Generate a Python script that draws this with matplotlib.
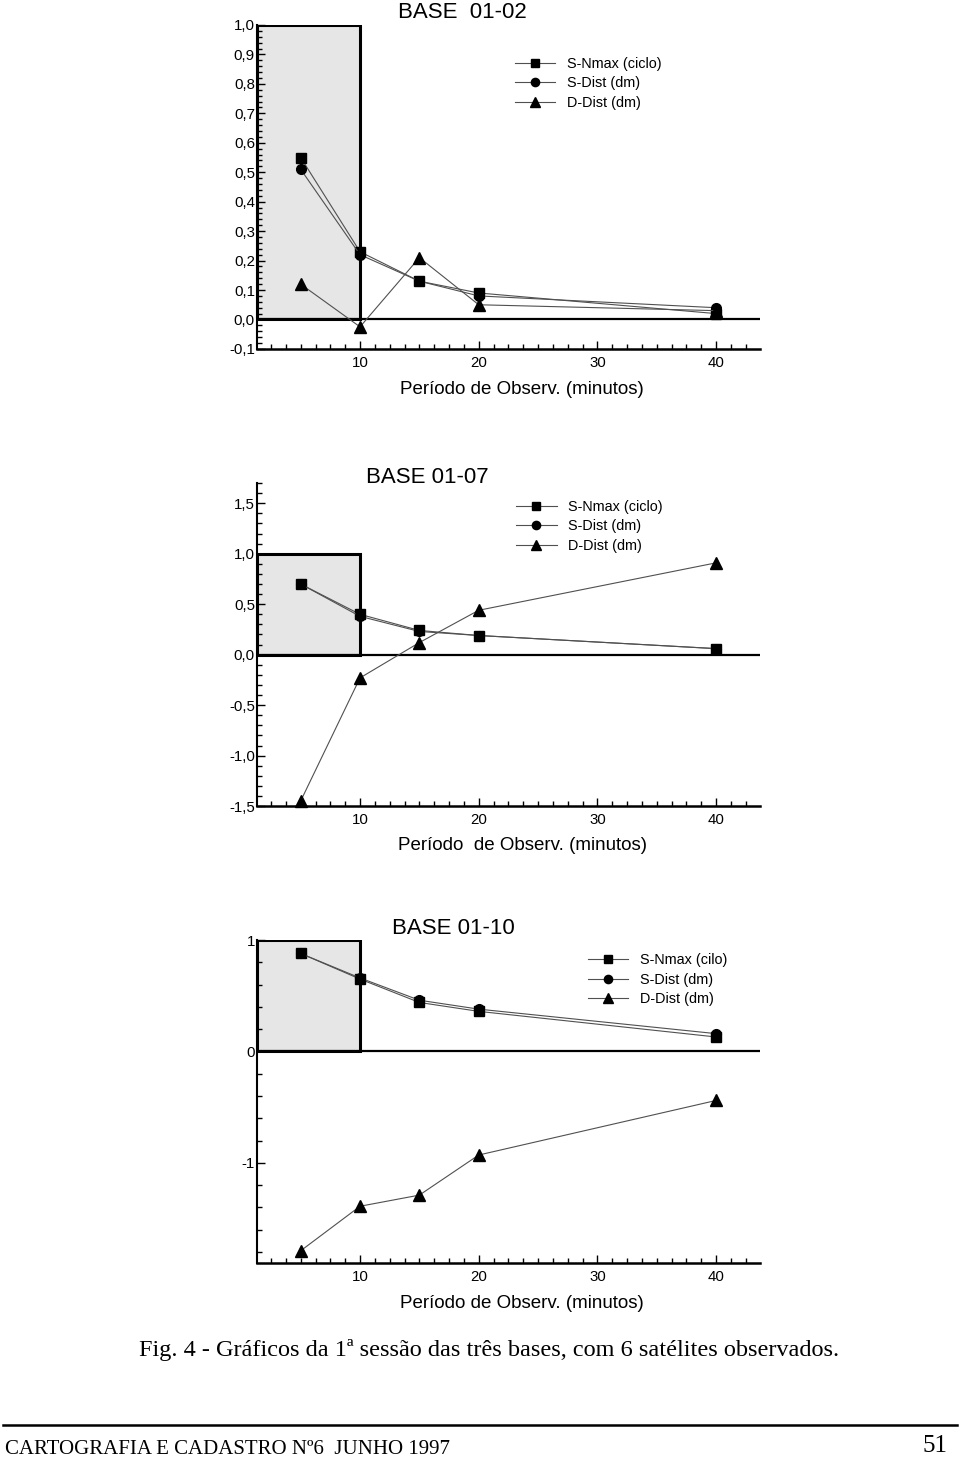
import matplotlib
matplotlib.use("Agg")
import matplotlib.pyplot as plt
from matplotlib.patches import Rectangle
from matplotlib.ticker import FixedLocator, MultipleLocator, FuncFormatter

plt.rcParams['font.family'] = ['Liberation Sans', 'DejaVu Sans']

# periodo de observacao (minutos)
periodo = [5, 10, 15, 20, 40]
series_names = ["S-Nmax (ciclo)", "S-Dist (dm)", "D-Dist (dm)"]
series_names_10 = ["S-Nmax (cilo)", "S-Dist (dm)", "D-Dist (dm)"]

# BASE 01-02
b02_snmax = [0.55, 0.23, 0.13, 0.09, 0.02]
b02_sdist = [0.51, 0.22, 0.13, 0.08, 0.04]
b02_ddist = [0.12, -0.025, 0.21, 0.05, 0.03]
b02_yticks = [-0.1, 0.0, 0.1, 0.2, 0.3, 0.4, 0.5, 0.6, 0.7, 0.8, 0.9, 1.0]

# BASE 01-07
b07_snmax = [0.70, 0.40, 0.24, 0.19, 0.06]
b07_sdist = [0.70, 0.38, 0.23, 0.19, 0.06]
b07_ddist = [-1.45, -0.23, 0.12, 0.44, 0.91]
b07_yticks = [-1.5, -1.0, -0.5, 0.0, 0.5, 1.0, 1.5]

# BASE 01-10
b10_snmax = [0.88, 0.65, 0.44, 0.36, 0.13]
b10_sdist = [0.88, 0.66, 0.46, 0.38, 0.16]
b10_ddist = [-1.79, -1.39, -1.29, -0.93, -0.44]
b10_yticks = [-1, 0, 1]

xticks = [10, 20, 30, 40]
markers = ['s', 'o', '^']
msizes = [7, 7, 8]


def comma(dec):
    def f(v, p):
        s = f"{v:.{dec}f}".replace('.', ',')
        if s in ("-0,0", "-0"):
            s = s[1:]
        return s
    return FuncFormatter(f)


def panel(rect, data, names, yticks, ylim, yminor, dec, box_top, leg_xy):
    ax = fig.add_axes(rect)
    xmin, xmax = 1.32, 43.7
    ax.set_xlim(xmin, xmax)
    ax.set_ylim(*ylim)
    ax.add_patch(Rectangle((xmin, 0), 10 - xmin, box_top, facecolor='#e6e6e6',
                           edgecolor='black', lw=2.2, zorder=1))
    ax.axhline(0, color='black', lw=1.6, zorder=2)
    for vals, m, ms, name in zip(data, markers, msizes, names):
        ax.plot(periodo, vals, color='#505050', lw=0.8, marker=m, ms=ms,
                mfc='black', mec='black', label=name, zorder=3, clip_on=False)
    for s in ('top', 'right'):
        ax.spines[s].set_visible(False)
    ax.spines['left'].set_linewidth(1.5)
    ax.spines['bottom'].set_linewidth(1.8)
    ax.xaxis.set_major_locator(FixedLocator(xticks))
    ax.xaxis.set_minor_locator(MultipleLocator(1.25))
    ax.yaxis.set_major_locator(FixedLocator(yticks))
    ax.yaxis.set_minor_locator(MultipleLocator(yminor))
    ax.yaxis.set_major_formatter(comma(dec))
    ax.tick_params(which='both', direction='in', width=1, labelsize=10.8)
    ax.tick_params(which='major', length=6)
    ax.tick_params(which='minor', length=3.5)
    ax.tick_params(axis='x', pad=5)
    ax.tick_params(axis='y', pad=1.5)
    ax.legend(loc='upper left', bbox_to_anchor=leg_xy, frameon=False,
              fontsize=10.4, handlelength=2.8, handletextpad=0.8,
              labelspacing=0.38, borderpad=0, borderaxespad=0,
              markerscale=0.85)
    return ax


fig = plt.figure(figsize=(9.6, 14.6), dpi=100)

panel([0.2677, 0.761, 0.524, 0.2219], [b02_snmax, b02_sdist, b02_ddist],
      series_names, b02_yticks, (-0.1, 1.0), 0.02, 1, 1.0, (0.513, 0.902))
panel([0.2677, 0.4479, 0.524, 0.2212], [b07_snmax, b07_sdist, b07_ddist],
      series_names, b07_yticks, (-1.5, 1.70), 0.1, 1, 1.0, (0.515, 0.949))
panel([0.2677, 0.1349, 0.524, 0.2212], [b10_snmax, b10_sdist, b10_ddist],
      series_names_10, b10_yticks, (-1.9, 1.0), 0.2, 0, 1.0, (0.658, 0.959))

fig.text(398 / 960, 1 - 12 / 1460, "BASE  01-02", fontsize=16, va='center')
fig.text(366 / 960, 1 - 478 / 1460, "BASE 01-07", fontsize=16, va='center')
fig.text(392 / 960, 1 - 928 / 1460, "BASE 01-10", fontsize=16, va='center')

fig.text(522 / 960, 1 - 389 / 1460, "Período de Observ. (minutos)",
         fontsize=13.5, ha='center', va='center')
fig.text(523 / 960, 1 - 845 / 1460, "Período  de Observ. (minutos)",
         fontsize=13.5, ha='center', va='center')
fig.text(522 / 960, 1 - 1303 / 1460, "Período de Observ. (minutos)",
         fontsize=13.5, ha='center', va='center')

fig.text(489 / 960, 1 - 1350 / 1460,
         "Fig. 4 - Gráficos da 1ª sessão das três bases, com 6 satélites observados.",
         family='Liberation Serif', fontsize=17.5, ha='center', va='center')
fig.add_artist(plt.Line2D([0.003, 0.997], [1 - 1425 / 1460] * 2,
                          color='black', lw=1.8))
fig.text(5 / 960, 1 - 1450 / 1460, "CARTOGRAFIA E CADASTRO Nº6  JUNHO 1997",
         family='Liberation Serif', fontsize=15, ha='left', va='center')
fig.text(948 / 960, 1 - 1446 / 1460, "51",
         family='Liberation Serif', fontsize=18, ha='right', va='center')

fig.savefig("out.png", dpi=100)
